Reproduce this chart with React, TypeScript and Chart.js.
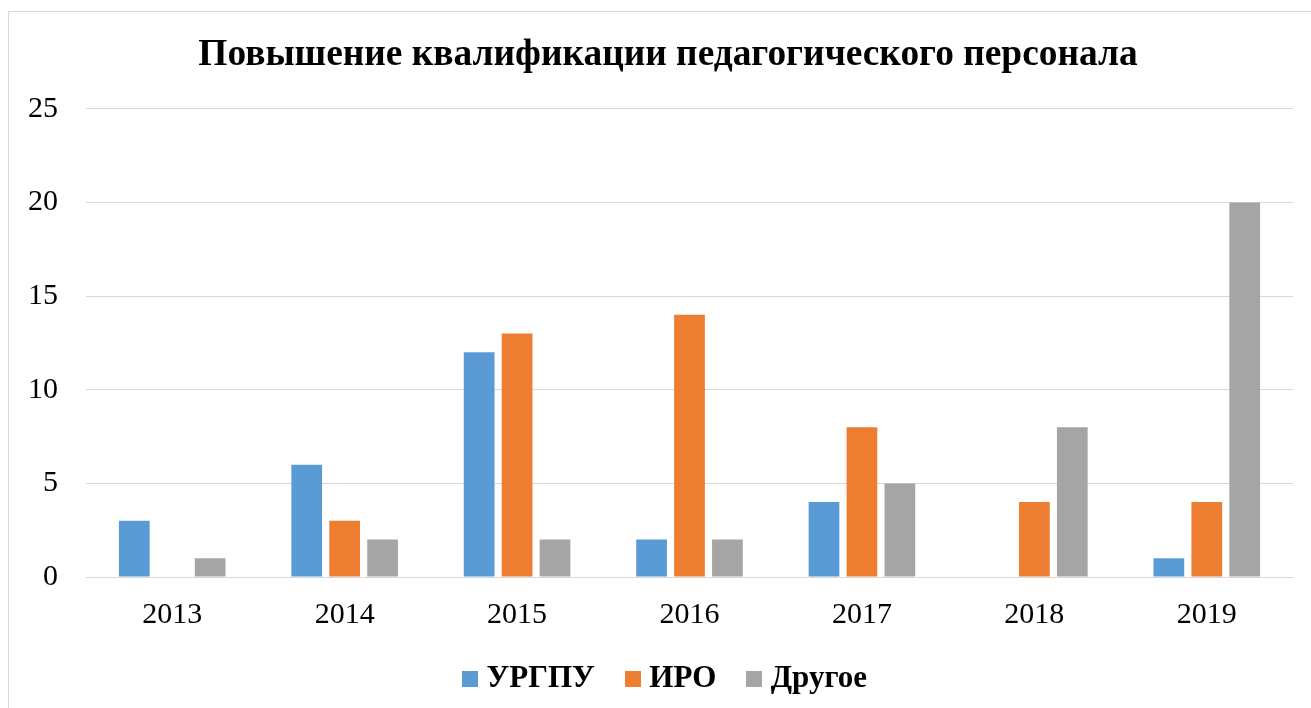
import React, { useEffect, useRef } from "react";
import { Chart, registerables } from "chart.js";

Chart.register(...registerables);

const categories = ["2013", "2014", "2015", "2016", "2017", "2018", "2019"];
const urgpu = [3, 6, 12, 2, 4, 0, 1];
const iro = [0, 3, 13, 14, 8, 4, 4];
const other = [1, 2, 2, 2, 5, 8, 20];
const seriesNames = ["УРГПУ", "ИРО", "Другое"];
const seriesColors = ["#5B9BD5", "#ED7D31", "#A5A5A5"];
const titleText = "Повышение квалификации педагогического персонала";

const FONT = "'Liberation Serif', 'Times New Roman', serif";
const PAD_LEFT = 34;

function squareIcon(color: string) {
  const c = document.createElement("canvas");
  c.width = 16;
  c.height = 16;
  const g = c.getContext("2d")!;
  g.fillStyle = color;
  g.fillRect(0, 0, 16, 16);
  return c;
}

export default function App() {
  const ref = useRef<HTMLCanvasElement | null>(null);
  useEffect(() => {
    if (!ref.current) return;
    const icons = seriesColors.map(squareIcon);
    const chart = new Chart(ref.current, {
      type: "bar",
      data: {
        labels: categories,
        datasets: [
          { label: seriesNames[0], data: urgpu, backgroundColor: seriesColors[0] },
          { label: seriesNames[1], data: iro, backgroundColor: seriesColors[1] },
          { label: seriesNames[2], data: other, backgroundColor: seriesColors[2] },
        ],
      },
      options: {
        animation: false,
        responsive: false,
        maintainAspectRatio: false,
        datasets: { bar: { categoryPercentage: 0.66, barPercentage: 0.81 } },
        layout: { padding: { left: PAD_LEFT, right: 18, top: 0, bottom: 5 } },
        plugins: {
          title: {
            display: true,
            text: titleText,
            color: "#000",
            font: { family: FONT, size: 37.4, weight: "bold" },
            padding: { top: 21, bottom: 31 },
          },
          legend: {
            position: "bottom",
            labels: {
              color: "#000",
              font: { family: FONT, size: 31, weight: "bold" },
              usePointStyle: true,
              pointStyleWidth: 2,
              padding: 37,
              generateLabels: (ch: any) => {
                const base = Chart.defaults.plugins.legend.labels.generateLabels(ch);
                return base.map((l: any, i: number) => ({ ...l, pointStyle: icons[i] }));
              },
            },
          },
          tooltip: { enabled: false },
        },
        scales: {
          x: {
            grid: { display: false, drawTicks: false },
            border: { display: true, color: "#D9D9D9", width: 1 },
            ticks: { color: "#000", font: { family: FONT, size: 30 }, padding: 20 },
            afterFit: (s: any) => {
              s.height = 49;
            },
          },
          y: {
            min: 0,
            max: 25,
            grid: { color: "#D9D9D9", lineWidth: 1, drawTicks: false },
            border: { display: false },
            ticks: { stepSize: 5, color: "#000", font: { family: FONT, size: 30 }, padding: 28 },
            afterFit: (s: any) => {
              s.width = 77 - PAD_LEFT;
              s._computeLabelArea = () => undefined;
            },
          },
        },
      },
    });
    return () => chart.destroy();
  }, []);
  return (
    <div style={{ position: "fixed", inset: 0, overflow: "hidden", background: "#fff" }}>
      <div
        style={{
          position: "absolute",
          left: 8,
          top: 11,
          width: 1330,
          height: 730,
          border: "1px solid #D9D9D9",
        }}
      >
        <canvas ref={ref} width={1302} height={697} style={{ display: "block" }} />
      </div>
    </div>
  );
}
